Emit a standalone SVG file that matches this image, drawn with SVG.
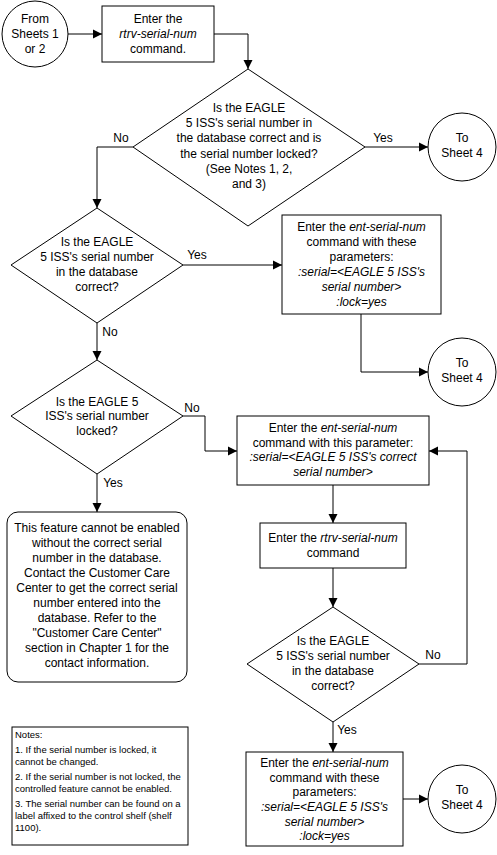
<svg xmlns="http://www.w3.org/2000/svg" width="497" height="855" viewBox="0 0 497 855">
<style>
  text { font-family: "Liberation Sans", Arial, sans-serif; font-size: 12px; fill: #000; }
  .c { text-anchor: middle; }
  .i { font-style: italic; }
  .n { font-size: 9.5px; }
  .shape { fill: #fff; stroke: #000; stroke-width: 1; }
  .edge { fill: none; stroke: #000; stroke-width: 1; marker-end: url(#arr); }
</style>
<defs>
  <marker id="arr" markerWidth="10" markerHeight="10" refX="9" refY="5" orient="auto" markerUnits="userSpaceOnUse">
    <path d="M0,0.5 L9,5 L0,9.5 Z" fill="#000"/>
  </marker>
</defs>
<rect x="0" y="0" width="497" height="855" fill="#fff"/>

<g id="connectors">
  <path class="edge" d="M68,34 H102"/>
  <path class="edge" d="M214,34 H248 V69"/>
  <path class="edge" d="M133,147 H97 V208"/>
  <path class="edge" d="M365,147 H428"/>
  <path class="edge" d="M183,265 H282"/>
  <path class="edge" d="M361,314 V372 H428"/>
  <path class="edge" d="M97,323 V360"/>
  <path class="edge" d="M183,416 H205 V451 H237"/>
  <path class="edge" d="M97,474 V512"/>
  <path class="edge" d="M333,485 V523"/>
  <path class="edge" d="M333,568 V607"/>
  <path class="edge" d="M419,664 H467 V451 H429"/>
  <path class="edge" d="M333,722 V752"/>
  <path class="edge" d="M403,799 H428"/>
  <text x="121" y="142" class="c">No</text>
  <text x="383" y="142" class="c">Yes</text>
  <text x="197" y="259" class="c">Yes</text>
  <text x="110" y="336" class="c">No</text>
  <text x="192" y="412" class="c">No</text>
  <text x="113" y="487" class="c">Yes</text>
  <text x="433" y="659" class="c">No</text>
  <text x="347" y="734" class="c">Yes</text>
</g>

<g id="start">
  <circle class="shape" cx="35" cy="34" r="33"/>
  <text x="35" y="23" class="c">From</text>
  <text x="35" y="38" class="c">Sheets 1</text>
  <text x="35" y="53" class="c">or 2</text>
</g>

<g id="rtrv1">
  <rect class="shape" x="102" y="6" width="112" height="56"/>
  <text x="158" y="23" class="c">Enter the</text>
  <text x="158" y="38" class="c i">rtrv-serial-num</text>
  <text x="158" y="53" class="c">command.</text>
</g>

<g id="dec1">
  <polygon class="shape" points="248,69 365,147 248,226 133,147"/>
  <text x="249" y="112" class="c">Is the EAGLE</text>
  <text x="249" y="127" class="c">5 ISS's serial number in</text>
  <text x="249" y="142" class="c">the database correct and is</text>
  <text x="249" y="158" class="c">the serial number locked?</text>
  <text x="249" y="173" class="c">(See Notes 1, 2,</text>
  <text x="249" y="188" class="c">and 3)</text>
</g>

<g id="sheet4a">
  <circle class="shape" cx="462" cy="147" r="34"/>
  <text x="462" y="142" class="c">To</text>
  <text x="462" y="157" class="c">Sheet 4</text>
</g>

<g id="dec2">
  <polygon class="shape" points="97,208 183,265 97,323 11,265"/>
  <text x="97" y="246" class="c">Is the EAGLE</text>
  <text x="97" y="261" class="c">5 ISS's serial number</text>
  <text x="97" y="276" class="c">in the database</text>
  <text x="97" y="291" class="c">correct?</text>
</g>

<g id="ent1">
  <rect class="shape" x="282" y="215" width="159" height="99"/>
  <text x="361.5" y="231" class="c">Enter the <tspan class="i">ent-serial-num</tspan></text>
  <text x="361.5" y="246" class="c">command with these</text>
  <text x="361.5" y="261" class="c">parameters:</text>
  <text x="361.5" y="276" class="c i">:serial=&lt;EAGLE 5 ISS's</text>
  <text x="361.5" y="291" class="c i">serial number&gt;</text>
  <text x="361.5" y="306" class="c i">:lock=yes</text>
</g>

<g id="sheet4b">
  <circle class="shape" cx="462" cy="372" r="34"/>
  <text x="462" y="367" class="c">To</text>
  <text x="462" y="382" class="c">Sheet 4</text>
</g>

<g id="dec3">
  <polygon class="shape" points="97,360 183,416 97,474 11,416"/>
  <text x="97" y="406" class="c">Is the EAGLE 5</text>
  <text x="97" y="420" class="c">ISS's serial number</text>
  <text x="97" y="435" class="c">locked?</text>
</g>

<g id="ent2">
  <rect class="shape" x="237" y="416" width="192" height="69"/>
  <text x="333" y="432" class="c">Enter the <tspan class="i">ent-serial-num</tspan></text>
  <text x="333" y="447" class="c">command with this parameter:</text>
  <text x="333" y="461" class="c i">:serial=&lt;EAGLE 5 ISS's correct</text>
  <text x="333" y="476" class="c i">serial number&gt;</text>
</g>

<g id="stop">
  <rect class="shape" x="7" y="512" width="180" height="170" rx="11" ry="11"/>
  <text x="97" y="532" class="c">This feature cannot be enabled</text>
  <text x="97" y="547" class="c">without the correct serial</text>
  <text x="97" y="562" class="c">number in the database.</text>
  <text x="97" y="577" class="c">Contact the Customer Care</text>
  <text x="97" y="592" class="c">Center to get the correct serial</text>
  <text x="97" y="607" class="c">number entered into the</text>
  <text x="97" y="622" class="c">database. Refer to the</text>
  <text x="97" y="637" class="c">"Customer Care Center"</text>
  <text x="97" y="652" class="c">section in Chapter 1 for the</text>
  <text x="97" y="667" class="c">contact information.</text>
</g>

<g id="rtrv2">
  <rect class="shape" x="260" y="523" width="146" height="45"/>
  <text x="333" y="542" class="c">Enter the <tspan class="i">rtrv-serial-num</tspan></text>
  <text x="333" y="557" class="c">command</text>
</g>

<g id="dec4">
  <polygon class="shape" points="333,607 419,664 333,722 247,664"/>
  <text x="333" y="645" class="c">Is the EAGLE</text>
  <text x="333" y="660" class="c">5 ISS's serial number</text>
  <text x="333" y="675" class="c">in the database</text>
  <text x="333" y="690" class="c">correct?</text>
</g>

<g id="ent3">
  <rect class="shape" x="246" y="752" width="157" height="94"/>
  <text x="324.5" y="767" class="c">Enter the <tspan class="i">ent-serial-num</tspan></text>
  <text x="324.5" y="782" class="c">command with these</text>
  <text x="324.5" y="796" class="c">parameters:</text>
  <text x="324.5" y="811" class="c i">:serial=&lt;EAGLE 5 ISS's</text>
  <text x="324.5" y="826" class="c i">serial number&gt;</text>
  <text x="324.5" y="840" class="c i">:lock=yes</text>
</g>

<g id="sheet4c">
  <circle class="shape" cx="462" cy="799" r="34"/>
  <text x="462" y="794" class="c">To</text>
  <text x="462" y="809" class="c">Sheet 4</text>
</g>

<g id="notes">
  <rect class="shape" x="12" y="727" width="176" height="118"/>
  <text x="15" y="738" class="n">Notes:</text>
  <text x="15" y="753" class="n">1. If the serial number is locked, it</text>
  <text x="15" y="765" class="n">cannot be changed.</text>
  <text x="15" y="780" class="n">2. If the serial number is not locked, the</text>
  <text x="15" y="792" class="n">controlled feature cannot be enabled.</text>
  <text x="15" y="807" class="n">3. The serial number can be found on a</text>
  <text x="15" y="819" class="n">label affixed to the control shelf (shelf</text>
  <text x="15" y="831" class="n">1100).</text>
</g>
</svg>
